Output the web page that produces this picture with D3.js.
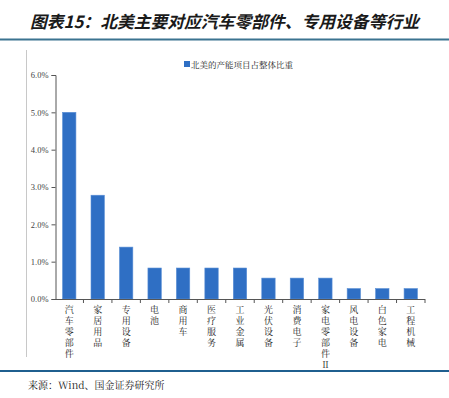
<!DOCTYPE html>
<html>
<head>
<meta charset="utf-8">
<script src="https://cdn.jsdelivr.net/npm/d3@7"></script>
<style>
  body { margin: 0; background: #fff; }
  svg { display: block; }
</style>
</head>
<body>
<div id="chart"></div>
<script>
// categories and values (share of North American capacity projects, %)
const categories = ['汽车零部件', '家居用品', '专用设备', '电池', '商用车', '医疗服务', '工业金属',
  '光伏设备', '消费电子', '家电零部件Ⅱ', '风电设备', '白色家电', '工程机械'];
const shares = [5.0, 2.78, 1.39, 0.83, 0.83, 0.83, 0.83, 0.56, 0.56, 0.56, 0.28, 0.28, 0.28];
const yTicks = [0, 1, 2, 3, 4, 5, 6];
const seriesName = '北美的产能项目占整体比重';
const title = '图表15：北美主要对应汽车零部件、专用设备等行业';
const source = '来源：Wind、国金证券研究所';

const W = 449, H = 398;
const plot = { left: 55, right: 425, top: 75, bottom: 299 };
const barColor = '#2f6fc4';
const font = '"Noto Sans CJK SC", "Noto Sans", sans-serif';
const serif = '"Noto Serif CJK SC", "Noto Sans CJK SC", "Liberation Serif", serif';

const svg = d3.select('#chart').append('svg')
  .attr('width', W)
  .attr('height', H);

// title
svg.append('text')
  .attr('x', 30)
  .attr('y', 28)
  .attr('font-family', font)
  .attr('font-size', 16.8)
  .attr('font-weight', 'bold')
  .attr('font-style', 'italic')
  .attr('fill', '#1a1a1a')
  .text(title);

// top and bottom rules, left frame line
svg.append('rect').attr('x', 0).attr('y', 38.5).attr('width', W).attr('height', 2).attr('fill', '#3b7390');
svg.append('rect').attr('x', 0).attr('y', 370).attr('width', W).attr('height', 2).attr('fill', '#1f5f8f');
svg.append('line')
  .attr('x1', 26.5).attr('x2', 26.5).attr('y1', 50).attr('y2', 357)
  .attr('stroke', '#c8c8c8').attr('stroke-width', 1);

const x = d3.scaleBand()
  .domain(categories)
  .range([plot.left, plot.right])
  .paddingInner(0.53)
  .paddingOuter(0.265);

const y = d3.scaleLinear()
  .domain([0, 6])
  .range([plot.bottom, plot.top]);

// bars
svg.append('g')
  .selectAll('rect')
  .data(categories)
  .join('rect')
  .attr('x', d => x(d))
  .attr('y', (d, i) => y(shares[i]))
  .attr('width', x.bandwidth())
  .attr('height', (d, i) => y(0) - y(shares[i]))
  .attr('fill', barColor)
  .attr('stroke', '#5a8fd6')
  .attr('stroke-width', 0.6);

// y axis
const yAxis = svg.append('g')
  .attr('transform', `translate(${plot.left + 0.5},0)`)
  .call(d3.axisLeft(y).tickValues(yTicks).tickSize(4).tickPadding(3)
    .tickFormat(d => d.toFixed(1) + '%'));
yAxis.select('.domain').attr('stroke', '#555');
yAxis.selectAll('.tick line').attr('stroke', '#555');
yAxis.selectAll('.tick text')
  .attr('font-family', '"Liberation Serif", serif')
  .attr('font-size', 8.5)
  .attr('fill', '#444');

// x axis: baseline and ticks between bands
const step = x.step();
const boundaries = d3.range(categories.length + 1).map(i => plot.left + i * step);
svg.append('line')
  .attr('x1', plot.left).attr('x2', plot.right)
  .attr('y1', plot.bottom + 0.5).attr('y2', plot.bottom + 0.5)
  .attr('stroke', '#555');
svg.append('g')
  .selectAll('line')
  .data(boundaries.slice(1))
  .join('line')
  .attr('x1', d => d).attr('x2', d => d)
  .attr('y1', plot.bottom).attr('y2', plot.bottom + 4)
  .attr('stroke', '#555');

// vertical category labels (one text per category, written top to bottom)
svg.append('g')
  .selectAll('text')
  .data(categories)
  .join('text')
  .attr('x', d => x(d) + x.bandwidth() / 2)
  .attr('y', 305)
  .style('writing-mode', 'vertical-rl')
  .style('text-orientation', 'upright')
  .style('letter-spacing', '2px')
  .attr('font-family', serif)
  .attr('font-size', 9)
  .attr('fill', '#222')
  .text(d => d);

// legend
svg.append('rect')
  .attr('x', 184).attr('y', 61)
  .attr('width', 6).attr('height', 6)
  .attr('fill', barColor);
svg.append('text')
  .attr('x', 191).attr('y', 67.5)
  .attr('font-family', serif)
  .attr('font-size', 8.5)
  .attr('fill', '#222')
  .text(seriesName);

// source
svg.append('text')
  .attr('x', 28).attr('y', 389)
  .attr('font-family', serif)
  .attr('font-size', 10)
  .attr('fill', '#222')
  .text(source);
</script>
</body>
</html>
